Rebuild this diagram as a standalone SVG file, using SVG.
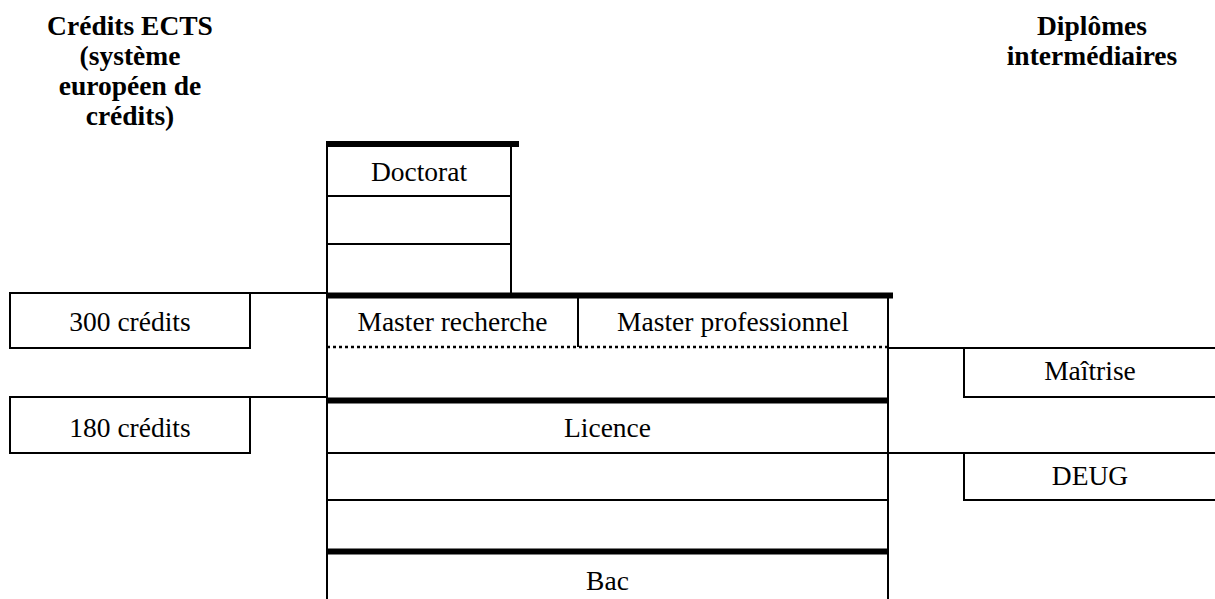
<svg xmlns="http://www.w3.org/2000/svg" width="1215" height="599" viewBox="0 0 1215 599">
<style>
text{font-family:'Liberation Serif','Times New Roman','DejaVu Serif',serif;font-size:27.5px;fill:#000;text-anchor:middle}
.b{font-weight:bold}
.l{stroke:#000;stroke-width:2;fill:none}
.k{stroke:#000;stroke-width:6;fill:none}
.d{stroke:#000;stroke-width:2.5;stroke-dasharray:3 3;fill:none}
</style>
<rect width="1215" height="599" fill="#fff"/>
<g id="title-ects">
<text class="b" x="130" y="35">Crédits ECTS</text>
<text class="b" x="130" y="65">(système</text>
<text class="b" x="130" y="95">européen de</text>
<text class="b" x="130" y="125">crédits)</text>
</g>
<g id="title-diplomes">
<text class="b" x="1092" y="35">Diplômes</text>
<text class="b" x="1092" y="65">intermédiaires</text>
</g>
<g id="doctorat">
<line class="k" x1="327" y1="144" x2="519" y2="144"/>
<line class="l" x1="511" y1="144" x2="511" y2="295"/>
<line class="l" x1="327" y1="196" x2="511" y2="196"/>
<line class="l" x1="327" y1="244" x2="511" y2="244"/>
<text x="419" y="181">Doctorat</text>
</g>
<g id="column">
<line class="l" x1="327" y1="141" x2="327" y2="599"/>
<line class="l" x1="888" y1="293" x2="888" y2="599"/>
</g>
<g id="master">
<line class="k" x1="327" y1="295.5" x2="893" y2="295.5"/>
<line class="l" x1="578" y1="295" x2="578" y2="347"/>
<line class="d" x1="327" y1="347" x2="888" y2="347"/>
<text x="452.5" y="331">Master recherche</text>
<text x="733" y="331" textLength="232" lengthAdjust="spacing">Master professionnel</text>
</g>
<g id="licence">
<line class="k" x1="327" y1="400.5" x2="888" y2="400.5"/>
<line class="l" x1="327" y1="453" x2="888" y2="453"/>
<line class="l" x1="327" y1="500" x2="888" y2="500"/>
<text x="607.5" y="437">Licence</text>
</g>
<g id="bac">
<line class="k" x1="327" y1="551.5" x2="888" y2="551.5"/>
<text x="607.5" y="590">Bac</text>
</g>
<g id="credits-300">
<rect class="l" x="10" y="293" width="240" height="55"/>
<text x="130" y="331">300 crédits</text>
</g>
<g id="credits-180">
<rect class="l" x="10" y="397" width="240" height="56"/>
<text x="130" y="437">180 crédits</text>
</g>
<g id="maitrise">
<line class="l" x1="964" y1="348" x2="964" y2="397"/>
<line class="l" x1="963" y1="397" x2="1215" y2="397"/>
<text x="1090" y="380">Maîtrise</text>
</g>
<g id="deug">
<line class="l" x1="964" y1="453" x2="964" y2="500"/>
<line class="l" x1="963" y1="500" x2="1215" y2="500"/>
<text x="1090" y="485">DEUG</text>
</g>
<g id="connectors">
<line class="l" x1="250" y1="293" x2="327" y2="293"/>
<line class="l" x1="250" y1="397" x2="327" y2="397"/>
<line class="l" x1="888" y1="348" x2="1215" y2="348"/>
<line class="l" x1="888" y1="453" x2="1215" y2="453"/>
</g>
</svg>
